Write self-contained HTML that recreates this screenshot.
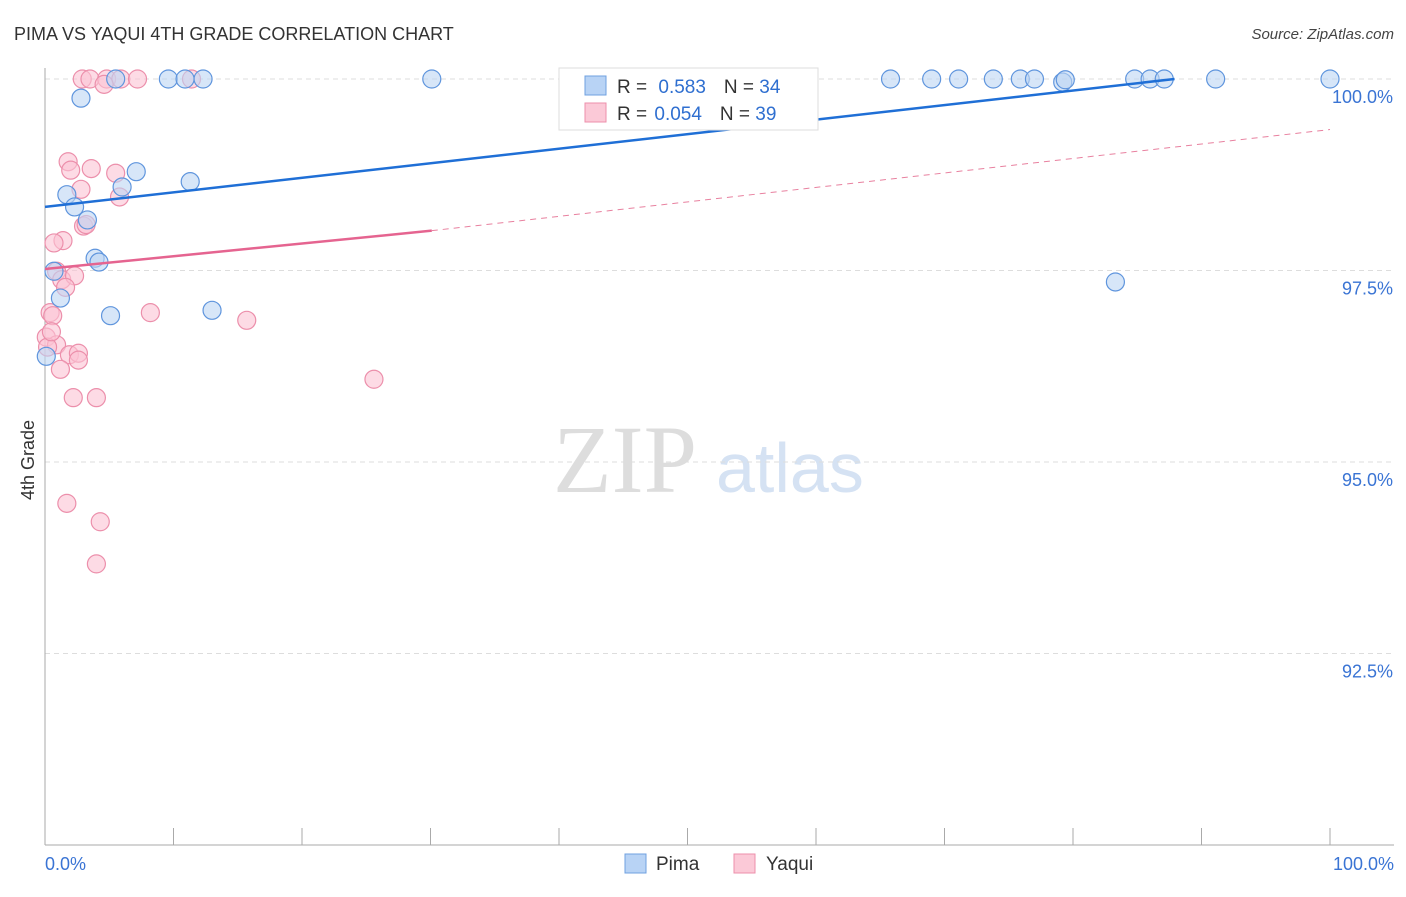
<!DOCTYPE html>
<html><head><meta charset="utf-8"><style>
body{margin:0;background:#fff;font-family:"Liberation Sans",sans-serif;}
</style></head><body>
<svg id="c" width="1406" height="892" xmlns="http://www.w3.org/2000/svg" style="font-family:'Liberation Sans',sans-serif">
<text x="14" y="40" font-size="18" fill="#333">PIMA VS YAQUI 4TH GRADE CORRELATION CHART</text>
<text x="1394" y="39" font-size="15" fill="#444" text-anchor="end" font-style="italic">Source: ZipAtlas.com</text>
<text x="34" y="460" font-size="18" fill="#333" transform="rotate(-90 34 460)" text-anchor="middle">4th Grade</text>
<text x="553" y="492" font-size="96" fill="#ddd" style="font-family:'Liberation Serif',serif">ZIP</text>
<text x="716" y="492" font-size="70" fill="#d5e2f3">atlas</text>
<g id="grid"></g><g id="axes"></g><g id="pts"></g><g id="trend"></g>
<g>
<rect x="559" y="68" width="259" height="62" fill="#fff" stroke="#ddd"/>
<rect x="585" y="76" width="21" height="19" fill="#b8d3f5" stroke="#6fa0e0"/>
<rect x="585" y="103" width="21" height="19" fill="#fbc9d7" stroke="#ec8fab"/>
<text x="617" y="93" font-size="19" fill="#333">R = <tspan fill="#2f6fd0" dx="6">0.583</tspan><tspan fill="#333" dx="18">N = </tspan><tspan fill="#2f6fd0">34</tspan></text>
<text x="617" y="120" font-size="19" fill="#333">R = <tspan fill="#2f6fd0" dx="2">0.054</tspan><tspan fill="#333" dx="18">N = </tspan><tspan fill="#2f6fd0">39</tspan></text>
</g>
<g>
<rect x="625" y="854" width="21" height="19" fill="#b8d3f5" stroke="#6fa0e0"/>
<text x="656" y="870" font-size="19" fill="#333">Pima</text>
<rect x="734" y="854" width="21" height="19" fill="#fbc9d7" stroke="#ec8fab"/>
<text x="766" y="870" font-size="19" fill="#333">Yaqui</text>
</g>
</svg>
<script>
const yTicks=[100,97.5,95,92.5];
const yTickLabels=["100.0%","97.5%","95.0%","92.5%"];
const pimaX=[2.8,5.5,9.6,10.9,12.3,30.1,48.4,65.8,69.0,71.1,73.8,75.9,77.0,79.2,79.4,84.8,86.0,87.1,91.1,100,7.1,11.3,6.0,1.7,2.3,3.3,3.9,4.2,0.7,1.2,5.1,13.0,83.3,0.1];
const pimaY=[99.75,100,100,100,100,100,100,100,100,100,100,100,100,99.96,99.99,100,100,100,100,100,98.79,98.66,98.59,98.49,98.33,98.16,97.66,97.61,97.49,97.14,96.91,96.98,97.35,96.38];
const yaquiX=[2.9,3.5,4.8,5.9,7.2,11.4,4.6,1.8,2.0,3.6,5.5,2.8,5.8,3.0,1.4,0.7,0.9,1.3,2.3,1.6,8.2,0.4,0.6,15.7,0.1,0.9,0.2,1.9,2.6,2.6,1.2,25.6,2.2,4.0,1.7,4.3,4.0,3.2,0.5];
const yaquiY=[100,100,100,100,100,100,99.93,98.92,98.81,98.83,98.77,98.56,98.46,98.08,97.89,97.86,97.49,97.38,97.43,97.28,96.95,96.95,96.91,96.85,96.63,96.53,96.50,96.40,96.42,96.33,96.21,96.08,95.84,95.84,94.46,94.22,93.67,98.1,96.7];
const pimaTrend=[[0,98.33],[87.9,100]];
const yaquiSolid=[[0,97.52],[30.1,98.02]];
const yaquiDash=[[30.1,98.02],[100,99.34]];
const X=v=>45+v*12.85, Y=v=>79+(100-v)*76.6;
const NS="http://www.w3.org/2000/svg";
function mk(t,a,p){const e=document.createElementNS(NS,t);for(const k in a)e.setAttribute(k,a[k]);document.getElementById(p).appendChild(e);return e;}
yTicks.forEach((t,i)=>{
 const l=mk('line',{x1:45,x2:1394,y1:Y(t),y2:Y(t),stroke:'#ddd','stroke-dasharray':'5,4'},'grid');
 
 
 const tx=mk('text',{x:1393,y:Y(t)+24,'font-size':18,fill:'#3a74d4','text-anchor':'end'},'grid');
 tx.textContent=yTickLabels[i];
 
 
});
const ax=mk('line',{x1:45,x2:45,y1:68,y2:845,stroke:'#aaa'},'axes');


const bx=mk('line',{x1:45,x2:1394,y1:845,y2:845,stroke:'#aaa'},'axes');


for(let i=0;i<=10;i++){const t=mk('line',{x1:X(i*10),x2:X(i*10),y1:828,y2:845,stroke:'#aaa'},'axes');
 
 }
[[0,'0.0%','start',45],[100,'100.0%','end',1394]].forEach(d=>{const t=mk('text',{x:d[3],y:870,'font-size':18,fill:'#3a74d4','text-anchor':d[2]},'axes');t.textContent=d[1];
 
 });
function pts(xs,ys,fill,stroke,name){xs.forEach((x,i)=>{const c=mk('circle',{cx:X(x),cy:Y(ys[i]),r:9,fill:fill,'fill-opacity':0.6,stroke:stroke,'stroke-width':1.2},'pts');
 
 });}
pts(yaquiX,yaquiY,'#fbc3d3','#ec8fab','yaqui-point');
pts(pimaX,pimaY,'#bcd5f4','#5f95dd','pima-point');
function ln(d,st,w,dash,name){const l=mk('line',{x1:X(d[0][0]),y1:Y(d[0][1]),x2:X(d[1][0]),y2:Y(d[1][1]),stroke:st,'stroke-width':w},'trend');if(dash)l.setAttribute('stroke-dasharray',dash);
 
 }
ln(pimaTrend,'#1f6fd6',2.5,null,'pima-trend-line');
ln(yaquiSolid,'#e56490',2.5,null,'yaqui-trend-line');
ln(yaquiDash,'#e8809f',1,'6,5','yaqui-trend-extension');
</script>
</body></html>
